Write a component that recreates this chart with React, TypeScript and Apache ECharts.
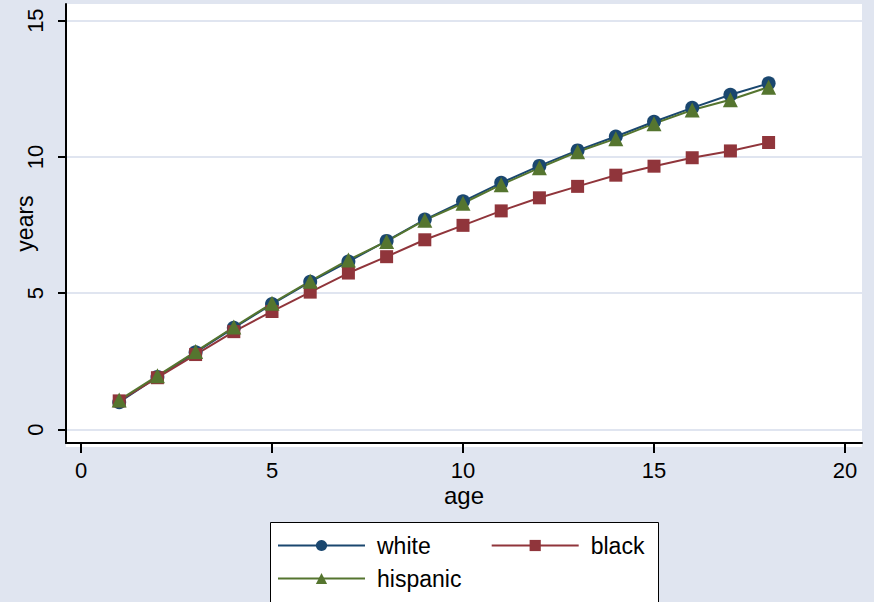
import React, { useEffect, useRef } from "react";
import * as echarts from "echarts";

const ages = [1, 2, 3, 4, 5, 6, 7, 8, 9, 10, 11, 12, 13, 14, 15, 16, 17, 18];
const white = [1.0, 1.93, 2.83, 3.73, 4.6, 5.42, 6.16, 6.92, 7.7, 8.37, 9.05, 9.67, 10.24, 10.75, 11.29, 11.8, 12.28, 12.7];
const black = [1.05, 1.9, 2.75, 3.59, 4.33, 5.04, 5.74, 6.34, 6.96, 7.49, 8.02, 8.5, 8.92, 9.33, 9.66, 9.97, 10.22, 10.53];
const hispanic = [1.08, 1.97, 2.86, 3.76, 4.63, 5.44, 6.22, 6.9, 7.68, 8.3, 8.98, 9.6, 10.19, 10.67, 11.22, 11.72, 12.1, 12.56];
const xTicks = [0, 5, 10, 15, 20];
const yTicks = [0, 5, 10, 15];

const FONT = "Liberation Sans, Arial, sans-serif";

export default function App() {
  const ref = useRef<HTMLDivElement>(null);
  useEffect(() => {
    if (!ref.current) return;
    const chart = echarts.init(ref.current, null, { renderer: "svg" });
    const mk = (name: string, data: number[], color: string, symbol: string, size: number) => ({
      name,
      type: "line",
      data: ages.map((a, i) => [a, data[i]]),
      symbol,
      symbolSize: size,
      showSymbol: true,
      lineStyle: { color, width: 2 },
      itemStyle: { color, borderWidth: 0 },
      emphasis: { disabled: true },
    });
    const legendText = { fontSize: 23, color: "#000", fontFamily: FONT, padding: [0, 0, 0, 7] };
    chart.setOption({
      animation: false,
      backgroundColor: "#E0E5F0",
      textStyle: { fontFamily: FONT },
      graphic: [
        {
          type: "rect",
          z: -10,
          shape: { x: 66, y: 4, width: 796, height: 443 },
          style: { fill: "#ffffff" },
          silent: true,
        },
        {
          type: "rect",
          z: -5,
          shape: { x: 270.5, y: 522.5, width: 388, height: 100 },
          style: { fill: "#ffffff", stroke: "#000", lineWidth: 1 },
          silent: true,
        },
      ],
      grid: { left: 66, top: 4, right: 12, bottom: 159, containLabel: false, outerBoundsMode: "none" },
      xAxis: {
        type: "value",
        min: -0.393,
        max: 20.445,
        name: "age",
        nameLocation: "middle",
        nameGap: 40,
        nameMoveOverlap: false,
        nameTextStyle: { fontSize: 24, color: "#000", fontFamily: FONT },
        axisLine: { show: true, onZero: false, lineStyle: { color: "#000", width: 2 } },
        axisTick: { show: true, length: 10, customValues: xTicks, lineStyle: { color: "#000", width: 2 } },
        axisLabel: { customValues: xTicks, fontSize: 22, color: "#000", margin: 16, fontFamily: FONT },
        splitLine: { show: false },
      },
      yAxis: {
        type: "value",
        min: -0.495,
        max: 15.61,
        name: "years",
        nameLocation: "middle",
        nameGap: 30,
        nameRotate: 90,
        nameMoveOverlap: false,
        nameTextStyle: { fontSize: 23, color: "#000", fontFamily: FONT },
        axisLine: { show: true, onZero: false, lineStyle: { color: "#000", width: 2 } },
        axisTick: { show: true, length: 8, customValues: yTicks, lineStyle: { color: "#000", width: 2 } },
        axisLabel: { customValues: yTicks, rotate: 90, fontSize: 22, color: "#000", margin: 20, fontFamily: FONT },
        splitLine: { show: true, lineStyle: { color: "#E0E5F0", width: 2 } },
      },
      legend: [
        {
          left: 277,
          top: 534,
          orient: "horizontal",
          padding: 0,
          itemGap: 60,
          itemWidth: 87,
          itemHeight: 14,
          textStyle: legendText,
          data: [{ name: "white" }, { name: "black" }],
        },
        {
          left: 277,
          top: 567,
          orient: "horizontal",
          padding: 0,
          itemWidth: 87,
          itemHeight: 14,
          textStyle: legendText,
          data: [{ name: "hispanic" }],
        },
      ],
      series: [
        mk("white", white, "#1A476F", "circle", 14),
        mk("black", black, "#90353B", "rect", 13),
        mk("hispanic", hispanic, "#55752F", "triangle", 15),
      ],
    });
    return () => chart.dispose();
  }, []);
  return <div ref={ref} style={{ width: 874, height: 602, position: "absolute", left: 0, top: 0 }} />;
}
